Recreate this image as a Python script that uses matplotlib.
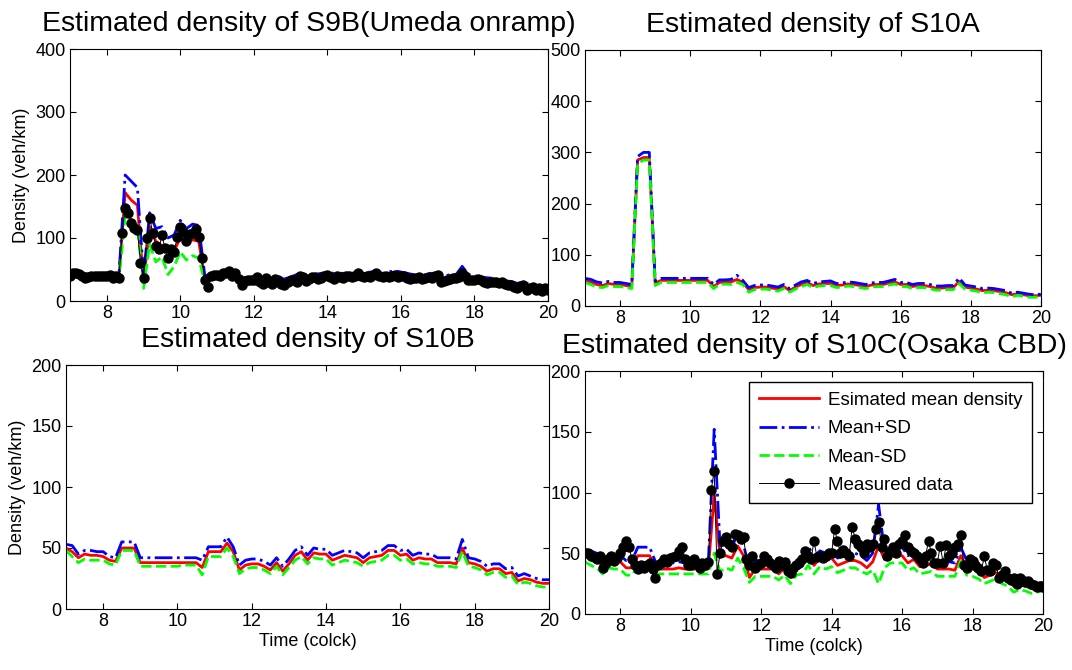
import numpy as np
import matplotlib
matplotlib.use("Agg")
import matplotlib.pyplot as plt

plt.rcParams["font.family"] = "Liberation Sans"
plt.rcParams["font.size"] = 13

# time grids (hours): estimates every 10 min, measurements every 5 min
t_est = np.linspace(7, 20, 79)
t_meas = np.linspace(7, 20, 157)

# ---- S9B (Umeda onramp) ----
s9b_mean = [42, 44, 40, 40, 41, 41,
            41, 42, 40, 172, 160, 152,
            30, 118, 95, 88, 80, 80,
            100, 92, 97, 95, 35, 38,
            40, 40, 42, 40, 33, 35,
            35, 33, 34, 35, 33, 32,
            35, 38, 38, 36, 38, 40,
            42, 40, 40, 40, 40, 42,
            40, 42, 42, 40, 42, 44,
            42, 40, 38, 38, 38, 40,
            40, 35, 38, 38, 48, 38,
            36, 34, 33, 32, 30, 29,
            28, 25, 26, 24, 22, 20,
            22]
s9b_upper = [46, 47, 44, 43, 44, 44,
             44, 45, 43, 200, 190, 180,
             40, 140, 115, 118, 100, 105,
             128, 115, 122, 120, 40, 42,
             44, 44, 47, 44, 37, 38,
             38, 37, 38, 38, 36, 35,
             38, 42, 42, 40, 42, 44,
             45, 44, 44, 44, 44, 46,
             44, 46, 46, 44, 46, 48,
             46, 44, 42, 42, 42, 44,
             44, 39, 42, 42, 55, 42,
             40, 38, 37, 36, 34, 32,
             31, 28, 29, 27, 25, 23,
             25]
s9b_lower = [38, 40, 36, 36, 37, 37,
             37, 38, 36, 135, 130, 120,
             20, 90, 62, 70, 42, 55,
             78, 65, 72, 68, 30, 34,
             36, 36, 38, 36, 29, 31,
             31, 29, 30, 31, 29, 28,
             31, 34, 34, 32, 34, 36,
             38, 36, 36, 36, 36, 38,
             36, 38, 38, 36, 38, 40,
             38, 36, 34, 34, 34, 36,
             36, 31, 34, 34, 42, 34,
             32, 30, 29, 28, 26, 25,
             24, 21, 22, 20, 18, 17,
             19]
s9b_meas = [40, 44, 44, 43, 40, 36, 38, 40, 40, 40, 40, 40,
            40, 42, 37, 40, 37, 108, 147, 140, 124, 116, 112, 60,
            36, 100, 132, 108, 88, 82, 104, 84, 68, 82, 78, 102,
            118, 110, 96, 106, 108, 114, 102, 68, 33, 23, 40, 42,
            42, 40, 44, 45, 48, 40, 44, 35, 25, 32, 34, 33,
            34, 38, 30, 27, 36, 30, 27, 35, 33, 27, 25, 30,
            33, 34, 30, 40, 38, 32, 35, 38, 38, 35, 37, 40,
            42, 38, 35, 40, 38, 36, 40, 40, 38, 40, 45, 40,
            38, 40, 38, 42, 45, 40, 38, 40, 38, 40, 42, 38,
            40, 40, 36, 35, 37, 36, 38, 35, 36, 38, 36, 40,
            42, 30, 32, 34, 35, 36, 36, 38, 45, 40, 34, 33,
            34, 35, 33, 30, 29, 30, 30, 30, 28, 30, 27, 25,
            25, 22, 20, 24, 25, 18, 20, 22, 18, 20, 16, 20,
            18]

# ---- S10A ----
s10a_mean = [50, 47, 42, 40, 44, 42,
             42, 40, 38, 285, 290, 290,
             45, 50, 50, 50, 50, 50,
             50, 50, 50, 50, 38, 46,
             47, 47, 52, 46, 32, 36,
             37, 37, 35, 33, 38, 30,
             37, 42, 46, 40, 43, 44,
             44, 40, 41, 43, 42, 40,
             38, 41, 42, 42, 45, 47,
             42, 42, 38, 40, 40, 38,
             35, 35, 36, 36, 48, 37,
             35, 33, 30, 31, 30, 28,
             26, 22, 24, 22, 20, 20,
             21]
s10a_upper = [54, 52, 47, 45, 48, 46,
              46, 44, 42, 292, 300, 300,
              49, 54, 54, 54, 54, 54,
              54, 54, 54, 54, 42, 51,
              51, 52, 60, 50, 36, 40,
              41, 41, 39, 37, 42, 34,
              41, 47, 50, 44, 47, 48,
              49, 44, 45, 47, 46, 44,
              42, 45, 46, 46, 49, 52,
              46, 46, 42, 44, 44, 42,
              39, 39, 40, 40, 55, 41,
              39, 37, 34, 35, 34, 32,
              30, 25, 27, 25, 23, 22,
              23]
s10a_lower = [46, 42, 37, 36, 40, 38,
              38, 36, 34, 278, 285, 285,
              40, 46, 46, 46, 46, 46,
              46, 46, 46, 46, 34, 42,
              43, 42, 46, 42, 27, 32,
              33, 33, 31, 29, 34, 27,
              33, 38, 42, 36, 39, 40,
              40, 36, 37, 39, 38, 36,
              34, 37, 38, 38, 41, 43,
              38, 38, 34, 36, 36, 34,
              31, 31, 32, 32, 44, 33,
              31, 29, 26, 27, 26, 24,
              22, 18, 21, 19, 17, 17,
              18]

# ---- S10B ----
s10b_mean = [50, 47, 42, 45, 44, 44,
             43, 40, 39, 50, 50, 50,
             38, 38, 38, 38, 38, 38,
             38, 38, 38, 38, 34, 47,
             47, 47, 54, 47, 32, 36,
             37, 37, 35, 32, 38, 31,
             37, 44, 47, 40, 46, 45,
             45, 40, 42, 44, 43, 42,
             38, 42, 43, 44, 48, 48,
             44, 45, 40, 42, 41, 41,
             38, 38, 38, 37, 50, 38,
             37, 35, 31, 33, 33, 29,
             30, 23, 25, 24, 22, 21,
             21]
s10b_upper = [53, 52, 45, 48, 48, 47,
              47, 43, 42, 55, 55, 55,
              42, 42, 42, 42, 42, 42,
              42, 42, 42, 42, 40, 51,
              51, 51, 59, 51, 36, 40,
              41, 41, 39, 36, 42, 35,
              41, 48, 51, 44, 50, 49,
              49, 44, 46, 48, 47, 46,
              42, 46, 47, 48, 52, 52,
              48, 49, 44, 46, 45, 45,
              42, 42, 42, 41, 57, 42,
              41, 39, 35, 37, 37, 33,
              34, 27, 29, 27, 25, 24,
              24]
s10b_lower = [48, 43, 38, 41, 40, 40,
              40, 37, 36, 48, 48, 48,
              35, 35, 35, 35, 35, 35,
              35, 36, 36, 36, 28, 43,
              43, 43, 50, 43, 29, 33,
              34, 34, 32, 29, 35, 28,
              34, 40, 43, 37, 42, 41,
              41, 36, 38, 40, 39, 38,
              35, 38, 39, 40, 44, 44,
              40, 41, 37, 38, 37, 37,
              35, 35, 35, 34, 47, 35,
              34, 32, 28, 30, 30, 26,
              27, 20, 22, 21, 19, 18,
              18]

# ---- S10C (Osaka CBD) ----
s10c_mean = [48, 46, 44, 40, 42, 42,
             43, 38, 38, 48, 48, 48,
             38, 37, 37, 37, 38, 37,
             37, 37, 37, 37, 98, 47,
             48, 46, 56, 48, 30, 37,
             37, 37, 37, 33, 38, 30,
             38, 40, 48, 40, 46, 44,
             46, 40, 42, 44, 44, 42,
             38, 43, 56, 45, 48, 48,
             48, 42, 45, 39, 40, 41,
             37, 37, 37, 36, 48, 38,
             37, 35, 30, 32, 34, 30,
             28, 23, 24, 23, 21, 21,
             22]
s10c_upper = [53, 52, 50, 45, 47, 47,
              48, 44, 44, 55, 55, 55,
              43, 42, 42, 42, 43, 42,
              42, 42, 42, 42, 152, 56,
              57, 55, 66, 57, 37, 44,
              44, 44, 44, 40, 45, 36,
              44, 48, 56, 47, 52, 50,
              52, 46, 48, 50, 50, 48,
              44, 50, 90, 52, 55, 55,
              55, 48, 51, 45, 46, 47,
              43, 43, 43, 42, 55, 44,
              43, 40, 36, 38, 39, 35,
              33, 28, 28, 27, 25, 25,
              26]
s10c_lower = [43, 40, 38, 33, 38, 37,
              37, 32, 32, 40, 40, 40,
              33, 33, 33, 33, 33, 33,
              33, 33, 33, 33, 50, 35,
              38, 36, 46, 38, 26, 31,
              31, 31, 31, 28, 32, 25,
              32, 33, 40, 33, 39, 37,
              39, 34, 36, 38, 38, 35,
              33, 36, 25, 38, 42, 42,
              42, 36, 38, 33, 34, 35,
              31, 31, 31, 31, 44, 32,
              31, 29, 25, 27, 29, 25,
              23, 18, 20, 19, 17, 18,
              19]
s10c_meas = [50, 50, 48, 47, 45, 48, 38, 42, 45, 48, 44, 46,
             50, 55, 60, 55, 45, 40, 37, 40, 38, 40, 42, 37,
             30, 40, 42, 45, 43, 46, 47, 48, 52, 55, 45, 40,
             40, 45, 42, 38, 42, 40, 43, 102, 118, 33, 50, 60,
             63, 58, 55, 66, 65, 62, 63, 45, 40, 48, 38, 40,
             42, 48, 45, 42, 40, 38, 44, 40, 43, 35, 34, 38,
             40, 42, 45, 52, 48, 45, 60, 47, 48, 46, 48, 50,
             50, 70, 60, 50, 53, 50, 48, 72, 62, 58, 55, 50,
             58, 55, 58, 70, 76, 55, 62, 48, 52, 55, 50, 58,
             60, 65, 55, 52, 50, 48, 45, 42, 48, 60, 50, 42,
             42, 56, 42, 57, 48, 50, 55, 58, 65, 40, 38, 45,
             44, 40, 38, 35, 48, 36, 35, 42, 40, 30, 32, 35,
             30, 28, 30, 25, 30, 28, 26, 27, 25, 24, 22, 23,
             22]

titles = ["Estimated density of S9B(Umeda onramp)", "Estimated density of S10A",
          "Estimated density of S10B", "Estimated density of S10C(Osaka CBD)"]
ymaxes = [400, 500, 200, 200]
ysteps = [100, 100, 50, 50]
legend_labels = ["Esimated mean density", "Mean+SD", "Mean-SD", "Measured data"]

W, H = 1072, 670
# axes boxes in pixels: left, top, right, bottom
boxes = [(70, 49, 548, 301), (585, 50, 1041, 306),
         (66, 365, 549, 609), (585, 371, 1043, 614)]

panels = [(s9b_mean, s9b_upper, s9b_lower, s9b_meas),
          (s10a_mean, s10a_upper, s10a_lower, None),
          (s10b_mean, s10b_upper, s10b_lower, None),
          (s10c_mean, s10c_upper, s10c_lower, s10c_meas)]

fig = plt.figure(figsize=(W / 100, H / 100), dpi=100)
for i, (mean, up, lo, meas) in enumerate(panels):
    l, t, r, b = boxes[i]
    ax = fig.add_axes([l / W, 1 - b / H, (r - l) / W, (b - t) / H])
    ax.plot(t_est, mean, color=(1, 0, 0), lw=2, label=legend_labels[0])
    ax.plot(t_est, up, color=(0, 0, 1), lw=2, ls="-.", label=legend_labels[1])
    ax.plot(t_est, lo, color=(0, 1, 0), lw=2, ls="--", label=legend_labels[2])
    if meas is not None:
        ax.plot(t_meas, meas, color="k", lw=0.7, marker="o", ms=6.5,
                label=legend_labels[3])
    ax.set_xlim(7, 20)
    ax.set_ylim(0, ymaxes[i])
    ax.set_xticks(range(8, 21, 2))
    ax.set_yticks(range(0, ymaxes[i] + 1, ysteps[i]))
    ax.tick_params(direction="in", top=True, right=True, length=4,
                   labelsize=13, pad=3)
    ax.set_title(titles[i], fontsize=20.5, pad=13)
    if i in (0, 2):
        ax.set_ylabel("Density (veh/km)", fontsize=13)
    if i in (2, 3):
        ax.set_xlabel("Time (colck)", fontsize=13, labelpad=2)
    if i == 3:
        leg = ax.legend(loc="upper right", fontsize=13.5, fancybox=False,
                        framealpha=1, edgecolor="k", handlelength=3.2,
                        handletextpad=0.5, borderaxespad=0.6,
                        labelspacing=0.6, borderpad=0.5)
        leg.get_frame().set_linewidth(1.0)

fig.savefig("out.png", dpi=100)
